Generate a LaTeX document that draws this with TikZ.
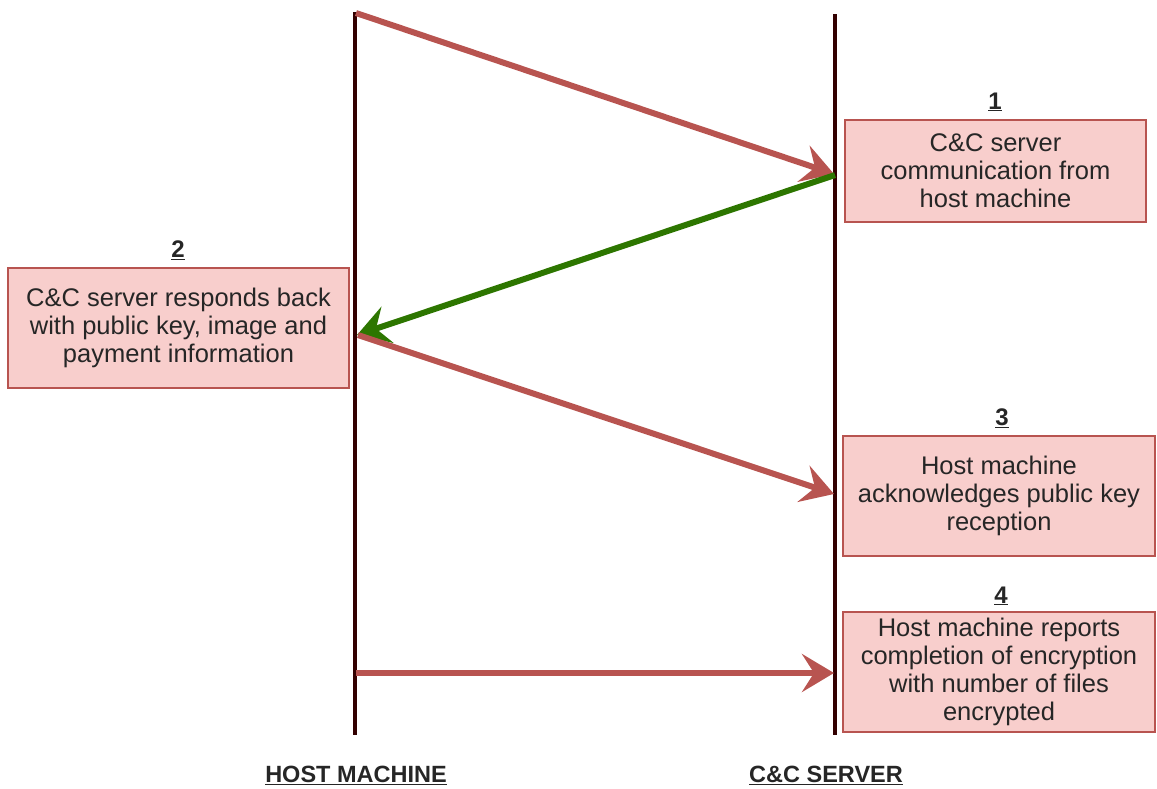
\documentclass[tikz,border=0pt]{standalone}
\usepackage{fontspec}
\setmainfont{Liberation Sans}
\usetikzlibrary{arrows.meta}
\definecolor{redline}{HTML}{B85450}
\definecolor{redfill}{HTML}{F8CECC}
\definecolor{greenline}{HTML}{2D7600}
\definecolor{lifeline}{HTML}{330000}
\tikzset{
  msgbox/.style={draw=redline, fill=redfill, line width=1.5pt, inner sep=0pt, align=center,
    font=\fontsize{25.5}{28}\selectfont, text=black!85},
  numlbl/.style={font=\fontsize{24}{26}\selectfont\bfseries, text=black!85},
  actor/.style={font=\fontsize{23.5}{26}\selectfont\bfseries, text=black!85},
  life/.style={draw=lifeline, line width=4pt},
  msg/.style={line width=6pt, -{Stealth[length=32pt,width=38pt,inset=12pt]}},
}
\begin{document}
\begin{tikzpicture}[x=1pt,y=-1pt]
\useasboundingbox (0,0) rectangle (1157,788);
% lifelines
\coordinate (htop) at (355,12);
\coordinate (hbot) at (355,735);
\coordinate (stop) at (835,14);
\coordinate (sbot) at (835,735);
\draw[life] (htop) -- (hbot);
\draw[life] (stop) -- (sbot);
% message points
\coordinate (h1) at (356,13);
\coordinate (s1) at (834,174);
\coordinate (s1b) at (835,175);
\coordinate (h2) at (357,335);
\coordinate (h2b) at (358,335);
\coordinate (s3) at (834,494);
\coordinate (h4) at (356,673);
\coordinate (s4) at (834,673);
% boxes
\node[msgbox, minimum width=301pt, minimum height=102pt] (b1) at (995.5,171) {C\&C server\\communication from\\host machine};
\node[msgbox, minimum width=341pt, minimum height=120pt] (b2) at (178.5,328) {C\&C server responds back\\with public key, image and\\payment information};
\node[msgbox, minimum width=312pt, minimum height=120pt] (b3) at (999,496) {Host machine\\acknowledges public key\\reception};
\node[msgbox, minimum width=312pt, minimum height=120pt] (b4) at (999,672) {Host machine reports\\completion of encryption\\with number of files\\encrypted};
% numbers
\node[numlbl] (n1) at (995,102) {\underline{1}};
\node[numlbl] (n2) at (178,250) {\underline{2}};
\node[numlbl] (n3) at (1002,418) {\underline{3}};
\node[numlbl] (n4) at (1001,596) {\underline{4}};
% actors
\node[actor] (ha) at (356,775) {\underline{HOST MACHINE}};
\node[actor] (sa) at (826,775) {\underline{C\&C SERVER}};
% messages
\draw[msg, redline] (h1) -- (s1);
\draw[msg, greenline] (s1b) -- (h2);
\draw[msg, redline] (h2b) -- (s3);
\draw[msg, redline] (h4) -- (s4);
\end{tikzpicture}
\end{document}
